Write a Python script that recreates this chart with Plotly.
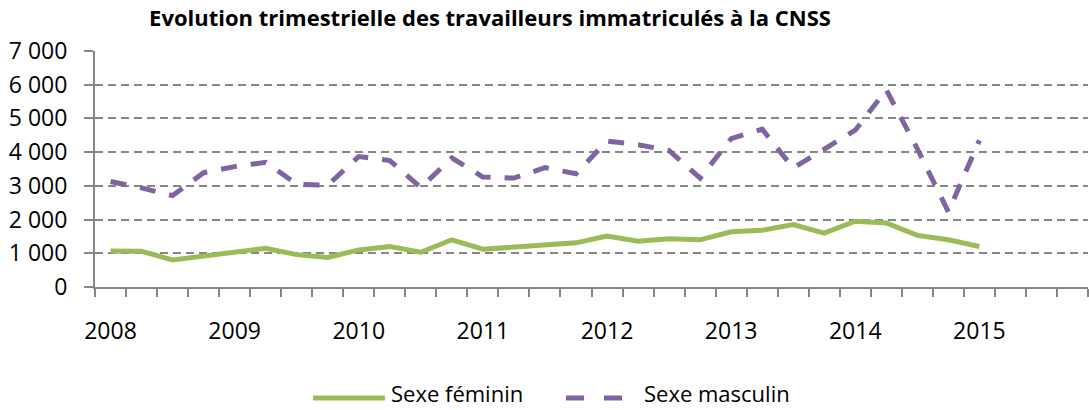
import plotly.graph_objects as go

# Quarterly registrations, 2008 Q1 to 2015 Q1
years = [2008, 2009, 2010, 2011, 2012, 2013, 2014, 2015]
quarters_per_year = 4
n_slots = len(years) * quarters_per_year  # 32 quarterly slots on the axis

feminin = [1070, 1060, 800, 920, 1040, 1150, 960, 875,
           1100, 1200, 1030, 1400, 1120, 1180, 1250, 1310,
           1510, 1360, 1430, 1400, 1640, 1680, 1850, 1600,
           1950, 1900, 1530, 1400, 1200]

masculin = [3130, 2940, 2710, 3390, 3570, 3700, 3050, 3020,
            3870, 3750, 2950, 3830, 3260, 3230, 3540, 3360,
            4330, 4220, 4050, 3230, 4400, 4680, 3530, 4100,
            4650, 5850, 4100, 2230, 4350]

series_names = ["Sexe féminin", "Sexe masculin"]

quarter_idx = list(range(len(feminin)))

green = "#9BBB59"
purple = "#8064A2"
axis_grey = "#868686"
font_family = "Open Sans, Lato, sans-serif"
masc_dash = "16px,14px"

W, H = 1089, 410
L, R, T, B = 95, 1, 51, 123
plot_w = W - L - R
plot_h = H - T - B


def px_to_paper_x(px):
    return (px - L) / plot_w


def px_to_paper_y(py):
    return (H - B - py) / plot_h


fig = go.Figure()
fig.add_trace(go.Scatter(
    x=quarter_idx, y=feminin, mode="lines", name=series_names[0],
    line=dict(color=green, width=5), showlegend=False,
))
fig.add_trace(go.Scatter(
    x=quarter_idx, y=masculin, mode="lines", name=series_names[1],
    line=dict(color=purple, width=5, dash=masc_dash), showlegend=False,
))

# Legend drawn below the plot: line sample + label for each series
legend_line_y = px_to_paper_y(398)
legend_text_bottom = px_to_paper_y(409)
legend_items = [
    (313, 385, 390, series_names[0], green, "solid"),
    (566, 624, 643, series_names[1], purple, "18px,20px"),
]
for x0, x1, tx, label, color, dash in legend_items:
    fig.add_shape(type="line", xref="paper", yref="paper",
                  x0=px_to_paper_x(x0), x1=px_to_paper_x(x1),
                  y0=legend_line_y, y1=legend_line_y,
                  line=dict(color=color, width=5, dash=dash))
    fig.add_annotation(xref="paper", yref="paper",
                       x=px_to_paper_x(tx), y=legend_text_bottom,
                       xanchor="left", yanchor="bottom", showarrow=False,
                       borderpad=0,
                       text=label, font=dict(size=22, color="black"))

fig.update_layout(
    width=W, height=H,
    margin=dict(l=L, r=R, t=T, b=B, autoexpand=False),
    paper_bgcolor="white", plot_bgcolor="white",
    separators=", ",
    font=dict(family=font_family, size=23, color="black"),
    title=dict(
        text="<b>Evolution trimestrielle des travailleurs immatriculés à la CNSS</b>",
        x=490 / W, xanchor="center", y=1 - 18 / H, yanchor="middle",
        font=dict(family=font_family, size=22, color="black"),
    ),
    showlegend=False,
)

fig.update_xaxes(
    range=[-0.5, n_slots - 0.5],
    tickmode="array",
    tickvals=[i * quarters_per_year for i in range(len(years))],
    ticktext=[str(y) for y in years],
    ticks="", showgrid=False, zeroline=False, automargin=False,
    showline=True, linecolor=axis_grey, linewidth=2,
    minor=dict(tickmode="array",
               tickvals=[k - 0.5 for k in range(n_slots + 1)],
               ticks="outside", ticklen=8, tickcolor=axis_grey, tickwidth=2),
    ticklabelstandoff=22,
)
fig.update_yaxes(
    range=[0, 7000], dtick=1000, tickformat=",d",
    showgrid=True, gridcolor=axis_grey, gridwidth=2, griddash="8px,5px",
    zeroline=False, automargin=False,
    showline=True, linecolor=axis_grey, linewidth=2,
    ticks="outside", ticklen=9, tickcolor=axis_grey, tickwidth=2,
    ticklabelstandoff=12,
)

fig.write_html("out.html")
